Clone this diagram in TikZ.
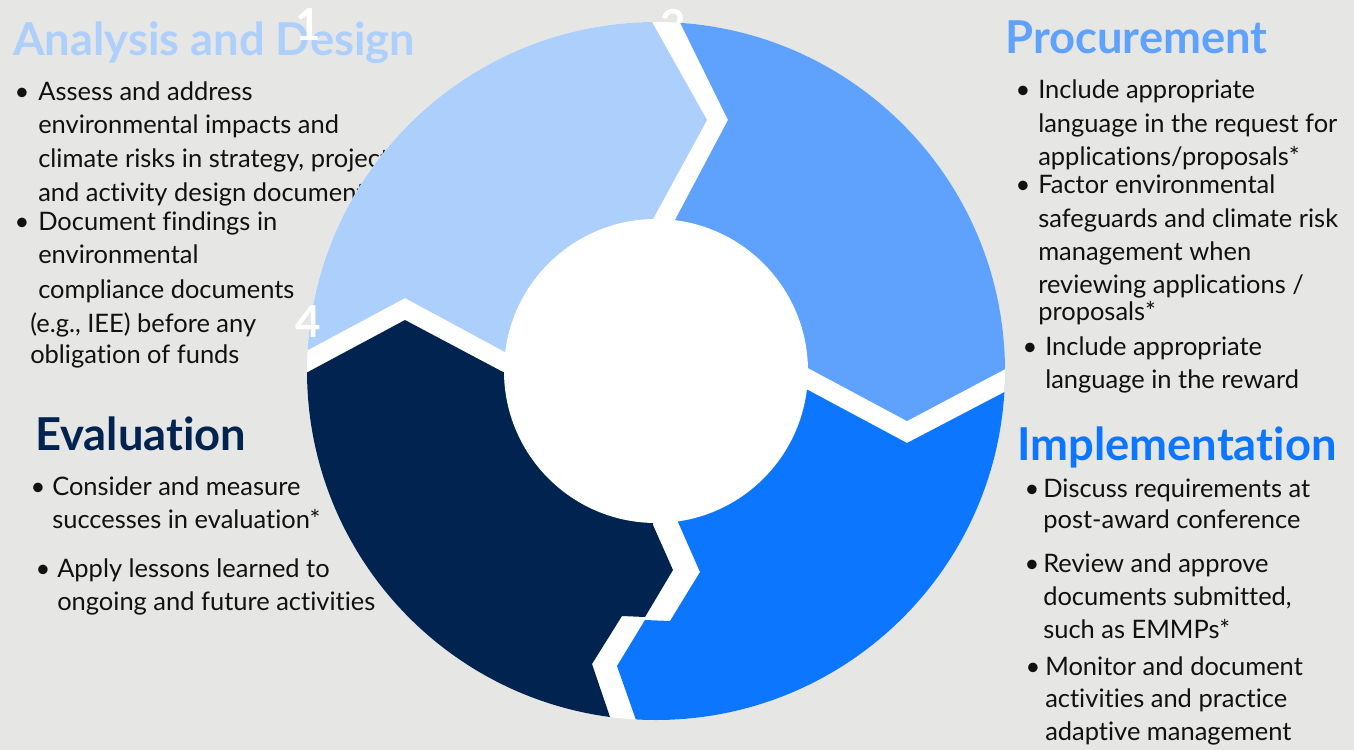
\documentclass[tikz,border=0pt]{standalone}
\usepackage{fontspec}
\setmainfont{Lato}[Ligatures=NoCommon]
\definecolor{bg}{RGB}{230,230,228}
\definecolor{lblue}{RGB}{173,207,252}
\definecolor{mblue}{RGB}{94,162,254}
\definecolor{bblue}{RGB}{13,118,254}
\definecolor{navy}{RGB}{0,35,79}
\definecolor{txt}{RGB}{17,17,17}
\begin{document}
\begin{tikzpicture}[x=0.75pt,y=-0.75pt,
  head/.style={anchor=base west,inner sep=0pt,font=\fontsize{34}{38}\selectfont\bfseries},
  ln/.style={anchor=base west,inner sep=0pt,text=txt,font=\fontsize{19.1}{22}\selectfont},
  bul/.style={anchor=base,inner sep=0pt,text=txt,font=\fontsize{19.1}{22}\selectfont},
  num/.style={anchor=base,inner sep=0pt,text=white,font=\fontsize{33}{36}\selectfont\bfseries}]
\useasboundingbox (0,0) rectangle (1354,750);
\fill[bg] (0,0) rectangle (1354,750);

% Analysis and Design
\node[head,text=lblue] (hA) at (13,55) {Analysis and Design};
\node[bul] (ab1) at (22,100) {•};
\node[ln] (a1) at (38,100) {Assess and address};
\node[ln] (a2) at (38,133) {environmental impacts and};
\node[ln] (a3) at (38,167) {climate risks in strategy, project,};
\node[ln] (a4) at (38,201) {and activity design documents};
\node[bul] (ab2) at (22,230) {•};
\node[ln] (a5) at (38,230) {Document findings in};
\node[ln] (a6) at (38,263) {environmental};
\node[ln] (a7) at (38,298) {compliance documents};
\node[ln] (a8) at (30,332) {(e.g., IEE) before any};
\node[ln] (a9) at (30,363) {obligation of funds};

% Evaluation
\node[head,text=navy] (hE) at (35,450) {Evaluation};
\node[bul] (eb1) at (38,495) {•};
\node[ln] (e1) at (52,495) {Consider and measure};
\node[ln] (e2) at (52,528) {successes in evaluation*};
\node[bul] (eb2) at (43,577) {•};
\node[ln] (e3) at (57,577) {Apply lessons learned to};
\node[ln] (e4) at (57,610) {ongoing and future activities};

% Procurement
\node[head,text=mblue] (hP) at (1005,53) {Procurement};
\node[bul] (pb1) at (1023,98) {•};
\node[ln] (p1) at (1038,98) {Include appropriate};
\node[ln] (p2) at (1038,132) {language in the request for};
\node[ln] (p3) at (1038,165) {applications/proposals*};
\node[bul] (pb2) at (1023,193) {•};
\node[ln] (p4) at (1038,193) {Factor environmental};
\node[ln] (p5) at (1038,227) {safeguards and climate risk};
\node[ln] (p6) at (1038,260) {management when};
\node[ln] (p7) at (1038,293) {reviewing applications /};
\node[ln] (p8) at (1038,320) {proposals*};
\node[bul] (pb3) at (1030,355) {•};
\node[ln] (p9) at (1045,355) {Include appropriate};
\node[ln] (p10) at (1045,388) {language in the reward};

% Implementation
\node[head,text=bblue] (hI) at (1017,460) {Implementation};
\node[bul] (ib1) at (1032,497) {•};
\node[ln] (i1) at (1043,497) {Discuss requirements at};
\node[ln] (i2) at (1043,528) {post-award conference};
\node[bul] (ib2) at (1032,572) {•};
\node[ln] (i3) at (1043,572) {Review and approve};
\node[ln] (i4) at (1043,605) {documents submitted,};
\node[ln] (i5) at (1043,638) {such as EMMPs*};
\node[bul] (ib3) at (1033,675) {•};
\node[ln] (i6) at (1045,675) {Monitor and document};
\node[ln] (i7) at (1045,707) {activities and practice};
\node[ln] (i8) at (1045,740) {adaptive management};

% number 2 (behind ring)
\node[num] (n2) at (673,41) {2};

% ring
\begin{scope}
\clip (656,371) circle [radius=349];
\fill[white] (656,371) circle [radius=349];
\fill[lblue] (634,-10) -- (707,120) -- (653,219) -- (656,371) -- (505,352) -- (405,298) -- (308,350) -- (250,381) -- (250,-10) -- cycle;
\fill[mblue] (664,-10) -- (728,120) -- (675,220) -- (656,371) -- (808,368) -- (907,421) -- (1060,340) -- (1060,-10) -- cycle;
\fill[bblue] (1060,363) -- (907,443) -- (808,390) -- (656,371) -- (678,522) -- (700,572) -- (670,621) -- (645,620) -- (617,666) -- (636,720) -- (650,760) -- (1060,760) -- cycle;
\fill[navy] (250,403) -- (405,320) -- (503,372) -- (656,371) -- (653,525) -- (673,570) -- (645,617) -- (622,616) -- (592,664) -- (610,717) -- (625,760) -- (250,760) -- cycle;
\end{scope}
\fill[white] (656,371) circle [radius=152];

% numbers on top
\node[num] (n1) at (308,40) {1};
\node[num] (n4) at (308,337) {4};
\end{tikzpicture}
\end{document}
